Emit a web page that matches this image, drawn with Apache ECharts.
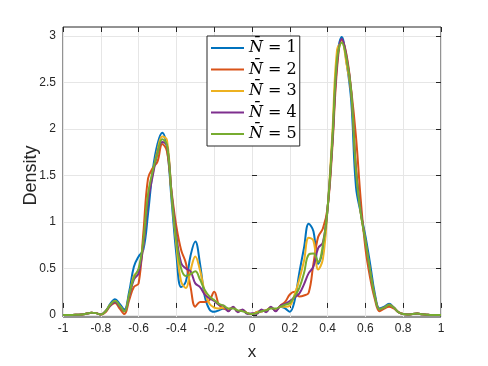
<!DOCTYPE html>
<html>
<head>
<meta charset="utf-8">
<script src="https://cdn.jsdelivr.net/npm/echarts@6/dist/echarts.min.js"></script>
<style>
html, body { margin: 0; padding: 0; background: #fff; }
#density-chart { width: 488px; height: 366px; }
</style>
</head>
<body>
<div id="density-chart"></div>
<script>
// sample positions along x
const xValues = [
  -1, -0.975, -0.95, -0.925, -0.9, -0.875, -0.85, -0.825, -0.8, -0.775,
  -0.75, -0.725, -0.7, -0.675, -0.65, -0.625, -0.6, -0.575, -0.55, -0.525,
  -0.5, -0.475, -0.45, -0.425, -0.4, -0.375, -0.35, -0.325, -0.3, -0.275,
  -0.25, -0.225, -0.2, -0.175, -0.15, -0.125, -0.1, -0.075, -0.05, -0.025,
  0, 0.025, 0.05, 0.075, 0.1, 0.125, 0.15, 0.175, 0.2, 0.225,
  0.25, 0.275, 0.3, 0.325, 0.35, 0.375, 0.4, 0.425, 0.45, 0.475,
  0.5, 0.525, 0.55, 0.575, 0.6, 0.625, 0.65, 0.675, 0.7, 0.725,
  0.75, 0.775, 0.8, 0.825, 0.85, 0.875, 0.9, 0.925, 0.95, 0.975, 1
];

// density estimates, one list per N
const densityN1 = [
  0, 0, 0, 0.003, 0.006, 0.015, 0.025, 0.02, 0.006, 0.04,
  0.12, 0.17, 0.12, 0.06, 0.25, 0.52, 0.63, 0.70, 1.09, 1.56,
  1.84, 1.96, 1.80, 1.22, 0.65, 0.30, 0.36, 0.64, 0.79, 0.55,
  0.20, 0.06, 0.035, 0.05, 0.07, 0.05, 0.08, 0.04, 0.05, 0.02,
  0.01, 0.03, 0.04, 0.05, 0.08, 0.05, 0.09, 0.07, 0.035, 0.15,
  0.45, 0.72, 0.98, 0.90, 0.55, 0.70, 1.15, 1.85, 2.75, 2.99,
  2.72, 2.30, 1.38, 1.10, 0.85, 0.55, 0.23, 0.07, 0.09, 0.12,
  0.08, 0.03, 0.01, 0.005, 0.012, 0.015, 0.008, 0.003, 0, 0, 0
];
const densityN2 = [
  0, 0, 0, 0.003, 0.006, 0.015, 0.025, 0.02, 0.005, 0.03,
  0.10, 0.13, 0.07, 0.01, 0.16, 0.30, 0.34, 0.88, 1.47, 1.58,
  1.65, 1.84, 1.76, 1.32, 0.95, 0.70, 0.56, 0.30, 0.09, 0.14,
  0.14, 0.16, 0.25, 0.11, 0.07, 0.06, 0.08, 0.04, 0.05, 0.02,
  0.01, 0.03, 0.04, 0.05, 0.08, 0.05, 0.10, 0.14, 0.22, 0.25,
  0.20, 0.21, 0.24, 0.55, 0.84, 0.93, 1.15, 1.80, 2.65, 2.96,
  2.80, 2.42, 1.92, 1.25, 0.72, 0.40, 0.17, 0.04, 0.07, 0.09,
  0.07, 0.03, 0.01, 0.005, 0.012, 0.015, 0.008, 0.003, 0, 0, 0
];
const densityN3 = [
  0, 0, 0, 0.003, 0.006, 0.015, 0.025, 0.02, 0.006, 0.04,
  0.11, 0.15, 0.10, 0.04, 0.20, 0.42, 0.48, 0.75, 1.27, 1.52,
  1.77, 1.92, 1.88, 1.28, 0.75, 0.36, 0.29, 0.48, 0.63, 0.48,
  0.25, 0.12, 0.08, 0.07, 0.08, 0.05, 0.08, 0.04, 0.05, 0.02,
  0.01, 0.03, 0.04, 0.05, 0.08, 0.05, 0.09, 0.09, 0.10, 0.22,
  0.38, 0.58, 0.83, 0.80, 0.49, 0.60, 1.15, 1.95, 2.85, 2.93,
  2.70, 2.38, 1.60, 1.10, 0.80, 0.47, 0.20, 0.06, 0.08, 0.11,
  0.08, 0.03, 0.01, 0.005, 0.012, 0.015, 0.008, 0.003, 0, 0, 0
];
const densityN4 = [
  0, 0, 0, 0.003, 0.006, 0.015, 0.025, 0.02, 0.006, 0.04,
  0.10, 0.14, 0.09, 0.04, 0.20, 0.38, 0.45, 0.75, 1.22, 1.50,
  1.74, 1.86, 1.82, 1.30, 0.85, 0.56, 0.50, 0.47, 0.34, 0.30,
  0.22, 0.18, 0.15, 0.11, 0.10, 0.04, 0.09, 0.03, 0.06, 0.01,
  0.02, 0.01, 0.06, 0.03, 0.09, 0.04, 0.10, 0.12, 0.15, 0.19,
  0.23, 0.33, 0.45, 0.52, 0.72, 0.78, 1.15, 1.85, 2.70, 2.97,
  2.78, 2.40, 1.58, 1.12, 0.80, 0.47, 0.20, 0.06, 0.08, 0.11,
  0.08, 0.03, 0.01, 0.005, 0.012, 0.015, 0.008, 0.003, 0, 0, 0
];
const densityN5 = [
  0, 0, 0, 0.003, 0.006, 0.015, 0.025, 0.02, 0.006, 0.04,
  0.11, 0.15, 0.10, 0.04, 0.22, 0.40, 0.50, 0.80, 1.30, 1.55,
  1.74, 1.89, 1.83, 1.28, 0.80, 0.50, 0.42, 0.44, 0.47, 0.38,
  0.27, 0.20, 0.16, 0.12, 0.10, 0.07, 0.07, 0.05, 0.04, 0.02,
  0.01, 0.02, 0.04, 0.05, 0.07, 0.07, 0.09, 0.11, 0.13, 0.20,
  0.29, 0.45, 0.65, 0.66, 0.57, 0.75, 1.15, 1.88, 2.75, 2.93,
  2.76, 2.40, 1.55, 1.10, 0.80, 0.48, 0.20, 0.06, 0.08, 0.11,
  0.08, 0.03, 0.01, 0.005, 0.012, 0.015, 0.008, 0.003, 0, 0, 0
];

const legendNames = ['1', '2', '3', '4', '5'];
const lineColors = ['#0072BD', '#D95319', '#EDB120', '#7E2F8E', '#77AC30'];
const allDensities = [densityN1, densityN2, densityN3, densityN4, densityN5];

const chartDom = document.getElementById('density-chart');
const myChart = echarts.init(chartDom);

const labelFont = 'Liberation Sans';
const axisColor = '#262626';

const seriesList = allDensities.map((ys, k) => ({
  name: legendNames[k],
  type: 'line',
  xAxisIndex: 0,
  yAxisIndex: 0,
  smooth: 0.4,
  symbol: 'none',
  showSymbol: false,
  lineStyle: { width: 2, color: lineColors[k] },
  itemStyle: { color: lineColors[k] },
  data: xValues.map((x, i) => [x, ys[i]]),
}));

myChart.setOption({
  animation: false,
  grid: [
    // data area: y from 0 to 3
    { left: 63, right: 47, top: 36, bottom: 51 },
    // box around the axes
    { left: 63, right: 47, top: 27, bottom: 42, show: true, borderColor: axisColor, borderWidth: 1, backgroundColor: 'transparent' },
  ],
  legend: {
    orient: 'vertical',
    left: 207,
    top: 36,
    selectedMode: false,
    backgroundColor: '#fff',
    borderColor: axisColor,
    borderWidth: 1,
    padding: [4, 3, 4, 4],
    itemWidth: 33,
    itemHeight: 2,
    itemGap: 5.5,
    icon: 'rect',
    data: legendNames,
    formatter: (name) => '{n|N\u0304}{e| = ' + name + '}',
    textStyle: {
      rich: {
        n: { fontFamily: 'DejaVu Serif', fontStyle: 'italic', fontSize: 16, color: '#000' },
        e: { fontFamily: 'DejaVu Serif', fontSize: 16, color: '#000' },
      },
    },
  },
  xAxis: [
    { gridIndex: 0, type: 'value', min: -1, max: 1, show: false },
    {
      gridIndex: 1, type: 'value', min: -1, max: 1, interval: 0.2, position: 'bottom',
      name: 'x', nameLocation: 'middle', nameGap: 27, nameMoveOverlap: false,
      nameTextStyle: { fontFamily: labelFont, fontSize: 17, color: axisColor },
      axisLine: { show: false },
      axisTick: { inside: true, length: 5, lineStyle: { color: axisColor } },
      axisLabel: { fontFamily: labelFont, fontSize: 12, color: axisColor, margin: 6 },
      splitLine: { show: true, lineStyle: { color: '#e6e6e6' } },
    },
    {
      gridIndex: 1, type: 'value', min: -1, max: 1, interval: 0.2, position: 'top',
      axisLine: { show: false },
      axisTick: { inside: true, length: 5, lineStyle: { color: axisColor } },
      axisLabel: { show: false },
      splitLine: { show: false },
    },
  ],
  yAxis: [
    {
      gridIndex: 0, type: 'value', min: 0, max: 3, interval: 0.5, position: 'left',
      name: 'Density', nameLocation: 'middle', nameGap: 23, nameMoveOverlap: false,
      nameTextStyle: { fontFamily: labelFont, fontSize: 18, color: axisColor },
      axisLine: { show: false },
      axisTick: { inside: true, length: 5, lineStyle: { color: axisColor } },
      axisLabel: { fontFamily: labelFont, fontSize: 12, color: axisColor, margin: 7 },
      splitLine: { show: true, lineStyle: { color: '#e6e6e6' } },
    },
    {
      gridIndex: 0, type: 'value', min: 0, max: 3, interval: 0.5, position: 'right',
      axisLine: { show: false },
      axisTick: { inside: true, length: 5, lineStyle: { color: axisColor } },
      axisLabel: { show: false },
      splitLine: { show: false },
    },
    { gridIndex: 1, type: 'value', min: -0.1, max: 3.1, show: false },
  ],
  series: seriesList,
});
</script>
</body>
</html>
